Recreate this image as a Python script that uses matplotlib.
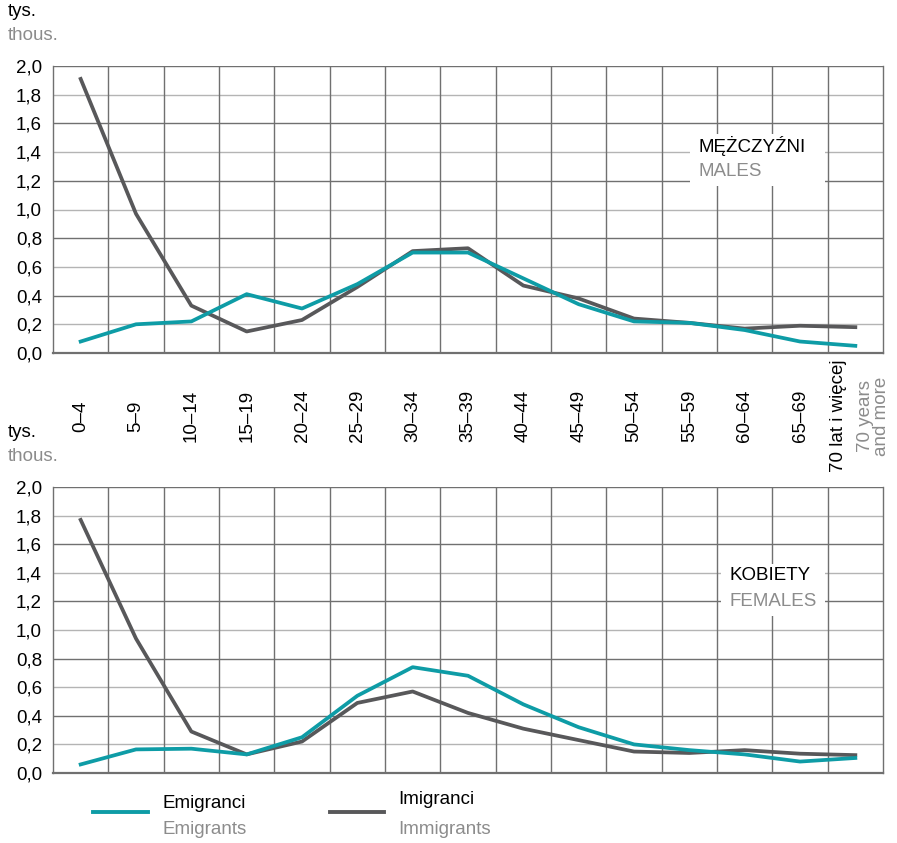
import numpy as np
import matplotlib
matplotlib.use("Agg")
import matplotlib.pyplot as plt
from matplotlib.patches import Rectangle
from matplotlib.transforms import blended_transform_factory

plt.rcParams['font.family'] = ['Liberation Sans', 'DejaVu Sans']

# -----------------------------
# Data (thousands of persons)
# -----------------------------
age_groups = ["0–4", "5–9", "10–14", "15–19", "20–24", "25–29", "30–34", "35–39",
              "40–44", "45–49", "50–54", "55–59", "60–64", "65–69", "70 lat i więcej"]
last_group_en = "70 years\nand more"

males_emigrants = [0.08, 0.20, 0.22, 0.41, 0.31, 0.48, 0.70, 0.70,
                   0.52, 0.34, 0.22, 0.21, 0.16, 0.08, 0.05]
males_immigrants = [1.91, 0.97, 0.33, 0.15, 0.23, 0.46, 0.71, 0.73,
                    0.47, 0.38, 0.24, 0.21, 0.17, 0.19, 0.18]
females_emigrants = [0.06, 0.165, 0.17, 0.13, 0.25, 0.54, 0.74, 0.68,
                     0.48, 0.32, 0.20, 0.16, 0.13, 0.08, 0.105]
females_immigrants = [1.77, 0.94, 0.29, 0.13, 0.22, 0.49, 0.57, 0.42,
                      0.31, 0.23, 0.15, 0.14, 0.16, 0.135, 0.125]

y_ticks = [0.0, 0.2, 0.4, 0.6, 0.8, 1.0, 1.2, 1.4, 1.6, 1.8, 2.0]

# -----------------------------
# Style
# -----------------------------
TEAL = "#0e9ca6"
DARK = "#58585a"
GRAY_TXT = "#8c8c8c"
GRID_DARK = "#707070"
GRID_LIGHT = "#b4b4b4"
FS = 13.5

W, H = 897, 843
fig = plt.figure(figsize=(W / 100, H / 100), dpi=100)


def fx(px):
    return px / W


def fy(py):
    return 1 - py / H


def make_panel(top_px, bottom_px, emi, imi, pl_label, en_label, box):
    ax = fig.add_axes([fx(53), fy(bottom_px), fx(883) - fx(53), fy(top_px) - fy(bottom_px)])
    x = np.arange(len(age_groups))
    ax.set_xlim(-0.5, len(age_groups) - 0.5)
    ax.set_ylim(0, 2.0)

    # horizontal grid, alternating shades
    for v in y_ticks[1:]:
        dark = round(v / 0.2) % 2 == 0
        ax.axhline(v, color=GRID_DARK if dark else GRID_LIGHT, lw=1.0, zorder=1)
    # vertical grid at category boundaries
    for b in np.arange(0.5, len(age_groups) - 0.5, 1):
        ax.axvline(b, color=GRID_DARK, lw=1.0, zorder=1)

    ax.spines["top"].set_visible(False)
    for s in ["left", "right", "bottom"]:
        ax.spines[s].set_color(GRID_DARK)
        ax.spines[s].set_linewidth(1.0)
    ax.spines["bottom"].set_linewidth(1.6)

    ax.set_xticks([])
    ax.set_yticks(y_ticks)
    ax.set_yticklabels([f"{v:.1f}".replace(".", ",") for v in y_ticks], fontsize=FS)
    ax.tick_params(axis="y", length=0, pad=8)

    ax.plot(x, emi, color=TEAL, lw=2.7, zorder=3, solid_joinstyle="round")
    ax.plot(x, imi, color=DARK, lw=2.7, zorder=2, solid_joinstyle="round")

    # sex label on a white box hiding the grid
    x0, y0, x1, y1 = box
    fig.add_artist(Rectangle((fx(x0), fy(y1)), fx(x1) - fx(x0), fy(y0) - fy(y1),
                             transform=fig.transFigure, facecolor="white",
                             edgecolor="none", zorder=4))
    fig.text(fx(x0 + 8), fy(y0 + 12), pl_label, fontsize=FS, color="black",
             ha="left", va="center", zorder=5)
    fig.text(fx(x0 + 8), fy(y0 + 38), en_label, fontsize=FS, color=GRAY_TXT,
             ha="left", va="center", zorder=5)
    return ax


ax1 = make_panel(66, 353, males_emigrants, males_immigrants, "MĘŻCZYŹNI", "MALES",
                 (690, 134, 825, 186))
ax2 = make_panel(487, 773, females_emigrants, females_immigrants, "KOBIETY", "FEMALES",
                 (721, 564, 825, 616))

# unit labels
for top in (3, 424):
    fig.text(fx(8), fy(top), "tys.", fontsize=FS, color="black", va="top")
    fig.text(fx(8), fy(top + 24), "thous.", fontsize=FS, color=GRAY_TXT, va="top")

# category labels between panels
tr = blended_transform_factory(ax1.transData, fig.transFigure)
for i, lab in enumerate(age_groups[:-1]):
    ax1.text(i, fy(416), lab, transform=tr, rotation=90, fontsize=FS,
             ha="center", va="center", rotation_mode="anchor", clip_on=False)
n = len(age_groups) - 1
ax1.text(n - 0.3, fy(416), age_groups[-1], transform=tr, rotation=90, fontsize=FS,
         ha="center", va="center", rotation_mode="anchor", clip_on=False)
ax1.text(n + 0.33, fy(416), last_group_en, transform=tr, rotation=90, fontsize=FS,
         color=GRAY_TXT, ha="center", va="center", rotation_mode="anchor",
         linespacing=0.95, clip_on=False)

# legend
fig.add_artist(plt.Line2D([fx(93), fx(148)], [fy(812), fy(812)], color=TEAL, lw=2.8))
fig.text(fx(162), fy(803), "Emigranci", fontsize=FS, color="black", va="center")
fig.text(fx(162), fy(829), "Emigrants", fontsize=FS, color=GRAY_TXT, va="center")
fig.add_artist(plt.Line2D([fx(330), fx(384)], [fy(812), fy(812)], color=DARK, lw=2.8))
fig.text(fx(398), fy(800), "Imigranci", fontsize=FS, color="black", va="center")
fig.text(fx(398), fy(829), "Immigrants", fontsize=FS, color=GRAY_TXT, va="center")

fig.savefig("out.png", dpi=100, facecolor="white")
